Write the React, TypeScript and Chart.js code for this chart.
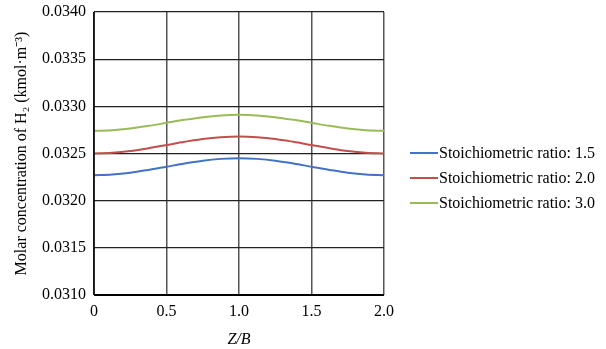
import React, { useEffect, useRef } from "react";
import { Chart, registerables } from "chart.js";

Chart.register(...registerables);

const xValues = [0, 0.125, 0.25, 0.375, 0.5, 0.625, 0.75, 0.875, 1.0, 1.125, 1.25, 1.375, 1.5, 1.625, 1.75, 1.875, 2.0];
const ratio15 = [
  0.03227, 0.032277, 0.032296, 0.032326, 0.03236, 0.032394, 0.032424, 0.032443, 0.03245,
  0.032443, 0.032424, 0.032394, 0.03236, 0.032326, 0.032296, 0.032277, 0.03227,
];
const ratio20 = [
  0.0325, 0.032507, 0.032526, 0.032556, 0.03259, 0.032624, 0.032654, 0.032673, 0.03268,
  0.032673, 0.032654, 0.032624, 0.03259, 0.032556, 0.032526, 0.032507, 0.0325,
];
const ratio30 = [
  0.03274, 0.032746, 0.032765, 0.032793, 0.032825, 0.032857, 0.032885, 0.032904, 0.03291,
  0.032904, 0.032885, 0.032857, 0.032825, 0.032793, 0.032765, 0.032746, 0.03274,
];
const seriesLabels = ["Stoichiometric ratio: 1.5", "Stoichiometric ratio: 2.0", "Stoichiometric ratio: 3.0"];
const seriesColors = ["#4472c4", "#c0504d", "#9bbb59"];
const yTitle = "Molar concentration of H\u2082 (kmol\u00b7m\u207b\u00b3)";
const xTitle = "Z/B";

const FONT = "'Liberation Serif', 'Times New Roman', serif";

const legendPlugin = {
  id: "customLegend",
  afterDraw(chart: any) {
    const ctx = chart.ctx;
    const area = chart.chartArea;
    const x0 = area.right + 26;
    const yStart = 153;
    const gap = 25;
    ctx.save();
    ctx.font = `16px ${FONT}`;
    ctx.textBaseline = "middle";
    ctx.textAlign = "left";
    chart.data.datasets.forEach((ds: any, i: number) => {
      const y = yStart + i * gap;
      ctx.strokeStyle = ds.borderColor;
      ctx.lineWidth = 2;
      ctx.beginPath();
      ctx.moveTo(x0, y);
      ctx.lineTo(x0 + 28, y);
      ctx.stroke();
      ctx.fillStyle = "#000";
      ctx.fillText(ds.label, x0 + 29, y + 1);
    });
    ctx.restore();
  },
};

const borderPlugin = {
  id: "frame",
  afterDatasetsDraw(chart: any) {
    const ctx = chart.ctx;
    const a = chart.chartArea;
    ctx.save();
    ctx.strokeStyle = "#000";
    ctx.lineWidth = 2;
    ctx.beginPath();
    ctx.moveTo(a.left, a.bottom);
    ctx.lineTo(a.right, a.bottom);
    ctx.stroke();
    ctx.lineWidth = 1.5;
    ctx.beginPath();
    ctx.moveTo(a.left, a.top);
    ctx.lineTo(a.left, a.bottom);
    ctx.stroke();
    ctx.restore();
  },
};

export default function App() {
  const ref = useRef<HTMLCanvasElement | null>(null);
  useEffect(() => {
    document.body.style.margin = "0";
    const mk = (vals: number[]) => xValues.map((x, i) => ({ x, y: vals[i] }));
    const chart = new Chart(ref.current as HTMLCanvasElement, {
      type: "line",
      data: {
        datasets: [ratio15, ratio20, ratio30].map((vals, i) => ({
          label: seriesLabels[i],
          data: mk(vals),
          borderColor: seriesColors[i],
          backgroundColor: seriesColors[i],
          borderWidth: 2,
          pointRadius: 0,
          cubicInterpolationMode: "monotone" as const,
          fill: false,
        })),
      },
      plugins: [legendPlugin, borderPlugin],
      options: {
        animation: false,
        responsive: false,
        layout: { padding: { left: 0, right: 222, top: 8, bottom: 0 } },
        plugins: { legend: { display: false }, tooltip: { enabled: false } },
        scales: {
          x: {
            type: "linear",
            min: 0,
            max: 2.0,
            border: { display: false },
            grid: { color: "#555", lineWidth: 1.5, drawTicks: false },
            ticks: {
              stepSize: 0.5,
              padding: 7,
              color: "#000",
              font: { family: FONT, size: 16 },
              callback: (v: any) => (v === 0 ? "0" : Number(v).toFixed(1)),
            },
            title: {
              display: true,
              text: xTitle,
              color: "#000",
              font: { family: FONT, size: 16, style: "italic" },
              padding: { top: 6, bottom: 0 },
            },
            afterFit: (s: any) => {
              s.height = 54;
            },
          },
          y: {
            min: 0.031,
            max: 0.034,
            border: { display: false },
            grid: { color: "#222", lineWidth: 1.2, drawTicks: false },
            ticks: {
              stepSize: 0.0005,
              padding: 8,
              color: "#000",
              font: { family: FONT, size: 16, lineHeight: 0.5 },
              callback: (v: any) => Number(v).toFixed(4),
            },
            title: {
              display: true,
              text: yTitle,
              color: "#000",
              font: { family: FONT, size: 16 },
              padding: { top: 12, bottom: 4 },
            },
            afterFit: (s: any) => {
              s.width = 94;
            },
          },
        },
      },
    });
    return () => chart.destroy();
  }, []);
  return (
    <div style={{ position: "absolute", left: 0, top: 0, width: 606, height: 349 }}>
      <canvas ref={ref} width={606} height={349} style={{ width: 606, height: 349 }} />
    </div>
  );
}
